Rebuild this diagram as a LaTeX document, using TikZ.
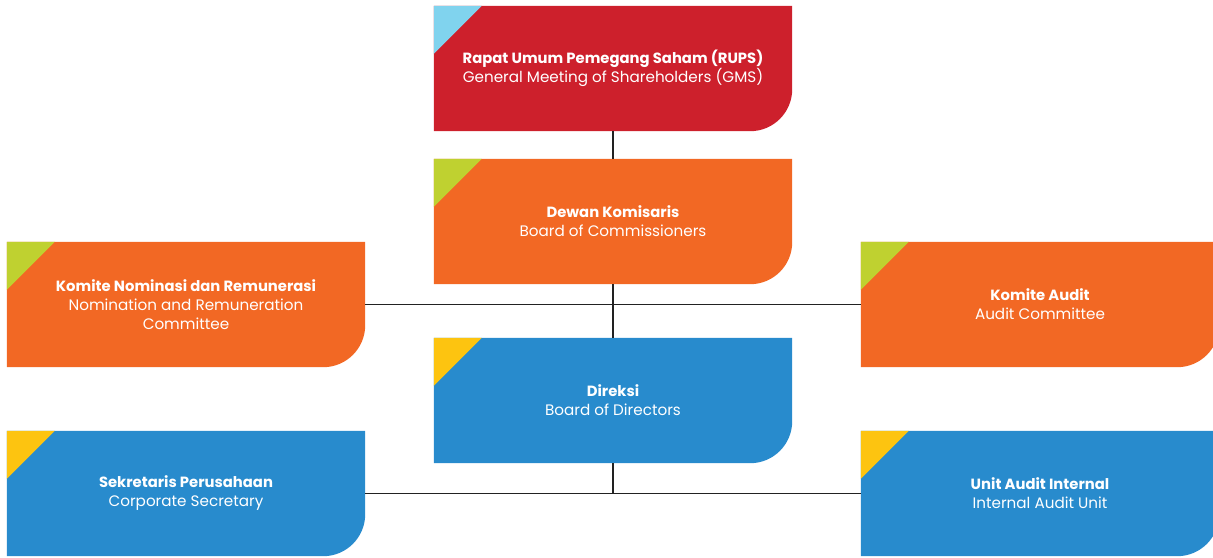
\documentclass[tikz,border=0pt]{standalone}
\usepackage{fontspec}
\setmainfont{Poppins}
\usetikzlibrary{calc,backgrounds}
\definecolor{rupsred}{HTML}{CD202C}
\definecolor{boardorange}{HTML}{F26824}
\definecolor{dirblue}{HTML}{288BCD}
\definecolor{triblue}{HTML}{80D3EE}
\definecolor{trigreen}{HTML}{BFD130}
\definecolor{triyellow}{HTML}{FDC410}
\definecolor{linegray}{HTML}{222222}
\newcommand\ttl[1]{{\fontsize{14.8}{19}\selectfont\bfseries #1}}
\tikzset{
  orgbox/.style={minimum width=358pt, minimum height=125pt, inner sep=0pt,
    text=white, align=center, font=\fontsize{15.2}{19}\selectfont},
  link/.style={draw=linegray, line width=1.1pt}
}
\newcommand\orgshape[3]{%
  \fill[#2] (#1.north west) -- (#1.north east) -- ($(#1.south east)+(0,42pt)$)
    arc[start angle=0,end angle=-90,radius=42pt] -- (#1.south west) -- cycle;
  \fill[#3] (#1.north west) -- ++(48pt,0) -- ($(#1.north west)+(0,-48pt)$) -- cycle;}
\begin{document}
\begin{tikzpicture}[x=1pt,y=1pt]
\useasboundingbox (0,0) rectangle (1213,557);
\clip (0,0) rectangle (1213,557);
\node[orgbox] (rups) at (613,488.5) {\ttl{Rapat Umum Pemegang Saham (RUPS)}\\General Meeting of Shareholders (GMS)};
\node[orgbox] (dekom) at (613,335.5) {\ttl{Dewan Komisaris}\\Board of Commissioners};
\node[orgbox] (nomrem) at (186,252.5) {\ttl{Komite Nominasi dan Remunerasi}\\Nomination and Remuneration\\Committee};
\node[orgbox] (audit) at (1040,252.5) {\ttl{Komite Audit}\\Audit Committee};
\node[orgbox] (direksi) at (613,156.5) {\ttl{Direksi}\\Board of Directors};
\node[orgbox] (sekper) at (186,63.5) {\ttl{Sekretaris Perusahaan}\\Corporate Secretary};
\node[orgbox] (spi) at (1040,63.5) {\ttl{Unit Audit Internal}\\Internal Audit Unit};
\begin{scope}[on background layer]
  \orgshape{rups}{rupsred}{triblue}
  \orgshape{dekom}{boardorange}{trigreen}
  \orgshape{nomrem}{boardorange}{trigreen}
  \orgshape{audit}{boardorange}{trigreen}
  \orgshape{direksi}{dirblue}{triyellow}
  \orgshape{sekper}{dirblue}{triyellow}
  \orgshape{spi}{dirblue}{triyellow}
\end{scope}
\draw[link] (rups.south) -- (dekom.north);
\draw[link] (dekom.south) -- (direksi.north);
\draw[link] (nomrem.east) -- (audit.west);
\coordinate (dirjoin) at (direksi.south |- sekper.east);
\draw[link] (direksi.south) -- (dirjoin);
\draw[link] (sekper.east) -- (spi.west);
\end{tikzpicture}
\end{document}
